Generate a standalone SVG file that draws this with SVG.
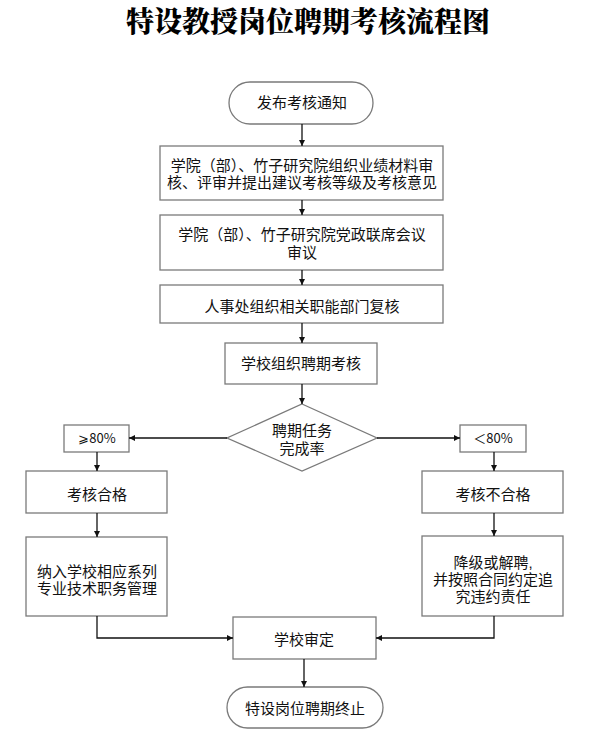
<svg xmlns="http://www.w3.org/2000/svg" width="589" height="741" viewBox="0 0 589 741">
<defs>
<style>
.box{fill:#fff;stroke:#7a7a7a;stroke-width:1.3}
.t{font-family:"Liberation Sans","Noto Sans CJK SC",sans-serif;font-size:15px;fill:#111;text-anchor:middle}
.s{font-family:"Noto Sans CJK SC",sans-serif;font-size:13px;fill:#111;text-anchor:middle}
.c{fill:none;stroke:#111;stroke-width:1.3;marker-end:url(#ah)}
.title{font-family:"Noto Serif CJK SC","Noto Sans CJK SC",serif;font-size:28px;font-weight:900;fill:#000;text-anchor:middle}
</style>
<marker id="ah" viewBox="0 0 10 10" refX="10" refY="5" markerWidth="6" markerHeight="6" markerUnits="userSpaceOnUse" orient="auto">
<path d="M0,0 L10,5 L0,10 z" fill="#111"/>
</marker>
</defs>
<rect width="589" height="741" fill="#fff"/>
<text class="title" x="308" y="32">特设教授岗位聘期考核流程图</text>

<g id="start"><rect class="box" x="229" y="82" width="144" height="42" rx="21"/><text class="t" x="302" y="108">发布考核通知</text></g>
<g id="n1"><rect class="box" x="160" y="146" width="283" height="54"/><text class="t" x="302" y="171">学院（部）、竹子研究院组织业绩材料审</text><text class="t" x="302" y="188">核、评审并提出建议考核等级及考核意见</text></g>
<g id="n2"><rect class="box" x="160" y="215" width="283" height="55"/><text class="t" x="302" y="240">学院（部）、竹子研究院党政联席会议</text><text class="t" x="302" y="258">审议</text></g>
<g id="n3"><rect class="box" x="160" y="285" width="283" height="38"/><text class="t" x="302" y="312">人事处组织相关职能部门复核</text></g>
<g id="n4"><rect class="box" x="225" y="343" width="152" height="41"/><text class="t" x="301" y="369">学校组织聘期考核</text></g>
<g id="d"><polygon class="box" points="302,404 377,438 302,471 227,438"/><text class="t" x="302" y="436">聘期任务</text><text class="t" x="302" y="454">完成率</text></g>
<g id="ge"><rect class="box" x="64" y="425" width="65" height="27"/><text class="s" x="97" y="443">⩾80%</text></g>
<g id="lt"><rect class="box" x="460" y="425" width="66" height="27"/><text class="s" x="493" y="443">＜80%</text></g>
<g id="pass"><rect class="box" x="26" y="471" width="141" height="42"/><text class="t" x="97" y="500">考核合格</text></g>
<g id="fail"><rect class="box" x="422" y="471" width="141" height="42"/><text class="t" x="493" y="500">考核不合格</text></g>
<g id="incl"><rect class="box" x="26" y="537" width="141" height="79"/><text class="t" x="97" y="577">纳入学校相应系列</text><text class="t" x="97" y="594">专业技术职务管理</text></g>
<g id="demote"><rect class="box" x="422" y="536" width="141" height="80"/><text class="t" x="493" y="568">降级或解聘,</text><text class="t" x="493" y="585">并按照合同约定追</text><text class="t" x="493" y="602">究违约责任</text></g>
<g id="review"><rect class="box" x="233" y="617" width="143" height="42"/><text class="t" x="304" y="645">学校审定</text></g>
<g id="end"><rect class="box" x="227" y="687" width="156" height="41" rx="20.5"/><text class="t" x="305" y="714">特设岗位聘期终止</text></g>

<g id="connectors">
<path class="c" d="M302,124 V146"/>
<path class="c" d="M302,200 V215"/>
<path class="c" d="M302,270 V285"/>
<path class="c" d="M302,323 V343"/>
<path class="c" d="M302,384 V404"/>
<path class="c" d="M227,438 H129"/>
<path class="c" d="M377,438 H460"/>
<path class="c" d="M97,452 V471"/>
<path class="c" d="M494,452 V471"/>
<path class="c" d="M97,513 V537"/>
<path class="c" d="M494,513 V536"/>
<path class="c" d="M97,616 V638 H233"/>
<path class="c" d="M494,616 V638 H376"/>
<path class="c" d="M304,659 V687"/>
</g>
</svg>
